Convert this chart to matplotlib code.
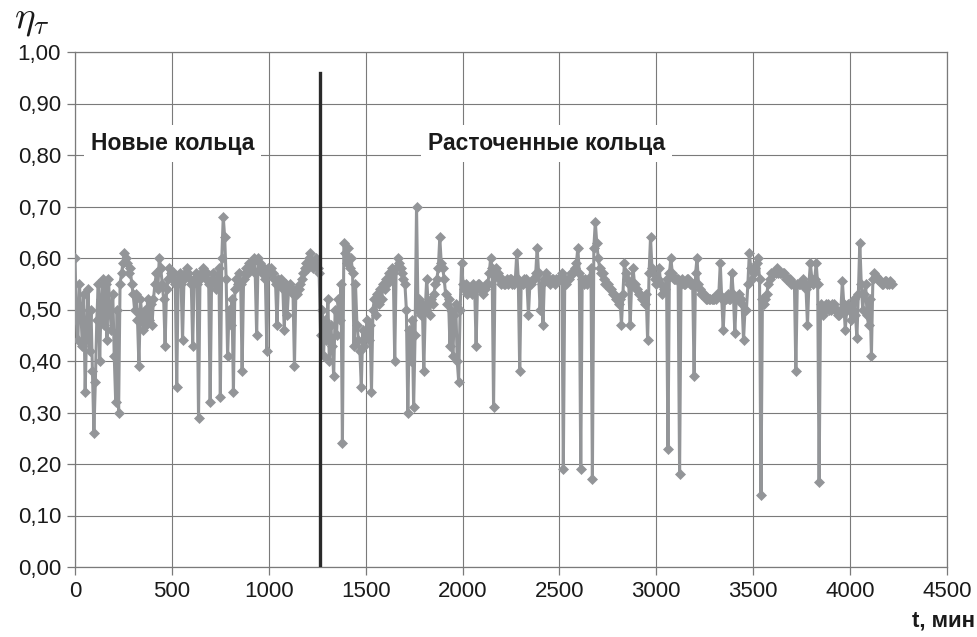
import numpy as np
import matplotlib
matplotlib.use("Agg")
import matplotlib.pyplot as plt
from matplotlib.ticker import FuncFormatter

plt.rcParams['font.family'] = ['Liberation Sans', 'DejaVu Sans']
plt.rcParams['mathtext.fontset'] = 'cm'

# sampling step, minutes (t = 0 ... 4215 min)
step = 7.5

# efficiency values, consecutive blocks
seg_a = [0.60, 0.48, 0.44, 0.55, 0.50, 0.43, 0.53, 0.34, 0.46, 0.54, 0.42, 0.50, 0.38, 0.26,
         0.36, 0.48, 0.55, 0.40, 0.52, 0.56, 0.47, 0.55, 0.44, 0.56, 0.50, 0.46, 0.53,
         0.41, 0.32, 0.50, 0.30, 0.55, 0.57, 0.59, 0.61, 0.60, 0.59, 0.57, 0.58, 0.55, 0.53,
         0.50, 0.53, 0.48, 0.39, 0.52, 0.49, 0.46, 0.50, 0.47, 0.52, 0.48, 0.51, 0.47,
         0.52, 0.55, 0.57, 0.54, 0.60, 0.58, 0.55, 0.52, 0.43, 0.54, 0.56, 0.58, 0.57]
seg_b = [0.56, 0.57, 0.55, 0.35, 0.56, 0.57, 0.55, 0.44, 0.56, 0.57,
         0.58, 0.57, 0.56, 0.55, 0.43, 0.56, 0.57, 0.55, 0.29, 0.56,
         0.57, 0.58, 0.57, 0.56, 0.57, 0.55, 0.32, 0.56, 0.57, 0.55,
         0.54, 0.56, 0.58, 0.33, 0.60, 0.68, 0.64, 0.56, 0.41, 0.50,
         0.47, 0.52, 0.34, 0.54, 0.56, 0.55, 0.57, 0.55, 0.38, 0.56,
         0.57, 0.58, 0.57, 0.59, 0.58, 0.59, 0.60, 0.57, 0.45, 0.60,
         0.59, 0.58, 0.57, 0.58, 0.56, 0.42, 0.58]
seg_c = [0.57, 0.58, 0.57, 0.56, 0.55, 0.47, 0.56, 0.55, 0.56, 0.54,
         0.46, 0.55, 0.49, 0.54, 0.55, 0.54, 0.53, 0.39, 0.54, 0.53,
         0.54, 0.55, 0.56, 0.57, 0.58, 0.59, 0.58, 0.60, 0.61, 0.59,
         0.58, 0.59, 0.60, 0.58, 0.57]
seg_d = [0.45, 0.50, 0.41, 0.48, 0.44, 0.52, 0.40, 0.47, 0.43, 0.37,
         0.50, 0.45, 0.52, 0.48, 0.55, 0.24, 0.63, 0.61, 0.59, 0.62,
         0.58, 0.60, 0.57, 0.43, 0.55, 0.47, 0.44, 0.42, 0.35, 0.46,
         0.43, 0.45]
seg_e = [0.48, 0.44, 0.47, 0.34, 0.50, 0.52, 0.49, 0.53, 0.51, 0.54,
         0.52, 0.55, 0.54, 0.56, 0.55, 0.57, 0.56, 0.58, 0.57, 0.40,
         0.58, 0.60, 0.59, 0.58, 0.57, 0.56, 0.55, 0.50, 0.30, 0.46,
         0.40, 0.48, 0.31, 0.45, 0.70, 0.50, 0.52, 0.49, 0.51, 0.38,
         0.50, 0.56, 0.51, 0.49, 0.52, 0.51, 0.53, 0.55, 0.56, 0.58,
         0.64, 0.59, 0.58, 0.56, 0.53, 0.51, 0.52, 0.43, 0.50, 0.41,
         0.49, 0.51, 0.40, 0.36, 0.50, 0.59]
seg_f = [0.55,
         0.54, 0.55, 0.53, 0.54, 0.54, 0.53, 0.55, 0.54, 0.43, 0.55,
         0.55, 0.54, 0.54, 0.53, 0.54, 0.55, 0.55, 0.57, 0.60, 0.58,
         0.31, 0.57, 0.58, 0.57, 0.56, 0.55, 0.56, 0.55, 0.55, 0.56,
         0.55, 0.56, 0.56, 0.55, 0.55, 0.56, 0.61, 0.56, 0.38, 0.55,
         0.55, 0.56, 0.56, 0.55, 0.49, 0.55, 0.55, 0.56, 0.56, 0.57,
         0.62, 0.57, 0.50, 0.55, 0.47, 0.56, 0.57, 0.56, 0.56, 0.55,
         0.56, 0.56, 0.55, 0.56, 0.56]
seg_g = [0.56, 0.56, 0.57, 0.19, 0.56, 0.55, 0.56, 0.56, 0.57, 0.57,
         0.57, 0.58, 0.59, 0.62, 0.57, 0.19, 0.56, 0.55, 0.56, 0.55,
         0.56, 0.56, 0.58, 0.17, 0.62, 0.67, 0.63, 0.60, 0.58, 0.57,
         0.57, 0.56, 0.55, 0.55, 0.55, 0.54, 0.54, 0.53, 0.53, 0.52,
         0.52, 0.51, 0.52, 0.47, 0.53, 0.59, 0.57, 0.56, 0.55, 0.47,
         0.55, 0.58, 0.55, 0.54, 0.54, 0.53, 0.53, 0.52, 0.52, 0.51,
         0.53, 0.44, 0.57, 0.64, 0.58, 0.57]
seg_h = [0.56, 0.55, 0.56, 0.58, 0.55, 0.53, 0.54, 0.54, 0.56, 0.23,
         0.57, 0.60, 0.57, 0.56, 0.56, 0.56, 0.56, 0.18, 0.55, 0.56,
         0.55, 0.55, 0.56, 0.56, 0.55, 0.55, 0.55, 0.37, 0.57, 0.60,
         0.55, 0.54, 0.53, 0.53, 0.53, 0.52, 0.52, 0.52, 0.52, 0.52,
         0.52, 0.52, 0.52, 0.53, 0.53, 0.59, 0.52, 0.46, 0.52, 0.52,
         0.53, 0.52, 0.52, 0.57, 0.53, 0.455, 0.52, 0.52, 0.53, 0.52,
         0.51, 0.44, 0.50, 0.50, 0.55, 0.61, 0.58, 0.56]
seg_i = [0.57, 0.58, 0.59, 0.60, 0.56, 0.14, 0.52, 0.51, 0.52, 0.53,
         0.55, 0.56, 0.57, 0.57, 0.57, 0.57, 0.58, 0.57, 0.57, 0.57,
         0.57, 0.57, 0.56, 0.56, 0.56, 0.56, 0.55, 0.55, 0.55, 0.38,
         0.55, 0.55, 0.55, 0.55, 0.56, 0.55, 0.54, 0.47, 0.55, 0.59,
         0.56, 0.55, 0.56, 0.59, 0.55, 0.165, 0.51, 0.50, 0.49, 0.50,
         0.51, 0.51, 0.50, 0.50, 0.51, 0.51, 0.50, 0.50, 0.49, 0.49,
         0.50, 0.555, 0.51, 0.46, 0.50, 0.51]
seg_j = [0.50, 0.48, 0.51, 0.52, 0.49, 0.445, 0.53, 0.63, 0.55, 0.50,
         0.53, 0.55, 0.49, 0.47, 0.52, 0.41, 0.56, 0.57, 0.565, 0.56,
         0.56, 0.555, 0.55, 0.55, 0.555, 0.555, 0.55, 0.55, 0.555, 0.55]

eta = np.array(seg_a + seg_b + seg_c + seg_d + seg_e + seg_f + seg_g + seg_h + seg_i + seg_j)
t = np.arange(len(eta)) * step

t_switch = 1262          # boundary between new and bored rings
label_new = "Новые кольца"
label_bored = "Расточенные кольца"
x_ticks = [0, 500, 1000, 1500, 2000, 2500, 3000, 3500, 4000, 4500]
y_ticks = [0.0, 0.1, 0.2, 0.3, 0.4, 0.5, 0.6, 0.7, 0.8, 0.9, 1.0]

fig = plt.figure(figsize=(9.78, 6.37), dpi=100)
ax = fig.add_axes([75/978, 1-567/637, 872/978, 515/637])

gray = '#939598'
ax.plot(t, eta, color=gray, lw=2.2, marker='D', markersize=5.6,
        markerfacecolor=gray, markeredgecolor=gray, markeredgewidth=0.5, zorder=3)

ax.plot([t_switch, t_switch], [0, 0.96], color='#2a2a2a', lw=2.4, zorder=4)

ax.set_xlim(0, 4500)
ax.set_ylim(0, 1.0)
ax.set_xticks(x_ticks)
ax.set_yticks(y_ticks)
ax.yaxis.set_major_formatter(FuncFormatter(lambda v, p: f"{v:.2f}".replace('.', ',')))
ax.grid(True, color='#7a7a7a', lw=0.8, zorder=1)
ax.set_axisbelow(True)
for s in ax.spines.values():
    s.set_color('#7a7a7a')
    s.set_linewidth(0.9)
ax.tick_params(axis='both', direction='out', length=6, width=0.9, color='#7a7a7a',
               labelsize=16, labelcolor='#1a1a1a', pad=4)

box = dict(facecolor='white', edgecolor='none', pad=5)
ax.text(80, 0.823, label_new, fontsize=16.5, fontweight='bold', color='#1a1a1a',
        ha='left', va='center', bbox=box, zorder=5)
ax.text(1820, 0.823, label_bored, fontsize=16.5, fontweight='bold', color='#1a1a1a',
        ha='left', va='center', bbox=box, zorder=5)

fig.text(14/978, 1-20/637, r'$\eta_\tau$', fontsize=28, ha='left', va='center', color='#1a1a1a')
fig.text(975/978, 1-621/637, 't, мин', fontsize=16, fontweight='bold', ha='right',
         va='center', color='#1a1a1a')

fig.savefig('out.png', dpi=100)
